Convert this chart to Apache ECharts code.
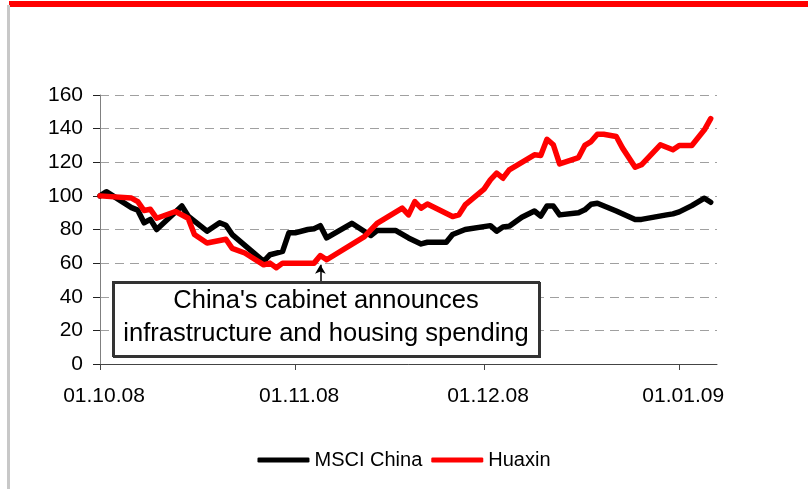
<!DOCTYPE html>
<html>
<head>
<meta charset="utf-8">
<script src="https://cdn.jsdelivr.net/npm/echarts@6/dist/echarts.min.js"></script>
<style>
  html, body { margin: 0; padding: 0; background: #fff; }
  #chart { width: 808px; height: 489px; }
</style>
</head>
<body>
<div id="chart"></div>
<script>
// MSCI China (black)
const msciDates = ['2008-10-01','2008-10-02','2008-10-06','2008-10-07','2008-10-08','2008-10-09','2008-10-10',
  '2008-10-14','2008-10-15','2008-10-18','2008-10-20','2008-10-21','2008-10-22','2008-10-27','2008-10-28',
  '2008-10-29','2008-10-30','2008-10-31','2008-11-01','2008-11-03','2008-11-04','2008-11-05','2008-11-06',
  '2008-11-10','2008-11-13','2008-11-14','2008-11-17','2008-11-19','2008-11-21','2008-11-22','2008-11-25',
  '2008-11-26','2008-11-28','2008-12-02','2008-12-03','2008-12-04','2008-12-05','2008-12-07','2008-12-09',
  '2008-12-10','2008-12-11','2008-12-12','2008-12-13','2008-12-16','2008-12-17','2008-12-18','2008-12-19',
  '2008-12-22','2008-12-25','2008-12-26','2008-12-30','2008-12-31','2009-01-01','2009-01-03','2009-01-05',
  '2009-01-06'];
const msciValues = [100, 102.5, 93, 91.5, 84, 86, 80,
  94, 88, 79, 84, 82.5, 77, 61, 65,
  66, 67, 78, 78, 80, 80.5, 82.3, 75,
  83.7, 76.4, 79.4, 79.4, 75, 71.4, 72.4, 72.4,
  77, 80, 82.3, 79, 81.5, 82, 87.3, 91,
  88, 94, 94, 88.7, 90, 91.7, 95, 95.6,
  91, 86, 86, 88.7, 89.3, 90.5, 94.2, 98.6,
  96.2];

// Huaxin (red)
const huaxinDates = ['2008-10-01','2008-10-06','2008-10-07','2008-10-08','2008-10-09','2008-10-10','2008-10-13',
  '2008-10-15','2008-10-16','2008-10-18','2008-10-21','2008-10-22','2008-10-24','2008-10-27','2008-10-28',
  '2008-10-29','2008-10-30','2008-11-04','2008-11-05','2008-11-06','2008-11-12','2008-11-14','2008-11-18',
  '2008-11-19','2008-11-20','2008-11-21','2008-11-22','2008-11-26','2008-11-27','2008-11-28','2008-12-01',
  '2008-12-02','2008-12-03','2008-12-04','2008-12-05','2008-12-09','2008-12-10','2008-12-11','2008-12-12',
  '2008-12-13','2008-12-16','2008-12-17','2008-12-18','2008-12-19','2008-12-20','2008-12-22','2008-12-23',
  '2008-12-25','2008-12-26','2008-12-29','2008-12-31','2009-01-01','2009-01-03','2009-01-05','2009-01-06'];
const huaxinValues = [100, 98.7, 96.6, 91.3, 92, 86.7, 90.7,
  86.7, 77, 72, 74.2, 68.8, 66, 59, 60,
  57.3, 60, 60, 64.5, 62, 75.8, 83.7, 92.7,
  88.7, 96.6, 92.7, 95.2, 87.7, 88.7, 94.6, 104,
  109.5, 113.5, 110.5, 115.5, 124.4, 124, 133.7, 130.4,
  119, 122.8, 130, 132.3, 136.7, 136.7, 135.3, 128.4,
  117, 118.5, 130.4, 127.4, 130, 130, 139.3, 146];

const tickDates = ['2008-10-01', '2008-11-01', '2008-12-01', '2009-01-01'];
const tickLabels = ['01.10.08', '01.11.08', '01.12.08', '01.01.09'];
const axisStart = '2008-10-01';
const axisEnd = '2009-01-07';

const annotDate = '2008-11-05';
const annotFrom = 48.8;
const annotTo = 59;
const annotLines = ["China's cabinet announces", 'infrastructure and housing spending'];

const FONT = '"Liberation Sans", Arial, sans-serif';
const DAY = 86400000;
const t = d => echarts.time.parse(d);
const tickTimes = tickDates.map(t);
const labelFor = v => {
  const i = tickTimes.findIndex(x => Math.abs(x - v) < DAY / 2);
  return i >= 0 ? tickLabels[i] : '';
};

const chart = echarts.init(document.getElementById('chart'), null, { renderer: 'canvas' });
chart.setOption({
  backgroundColor: '#fff',
  animation: false,
  textStyle: { fontFamily: FONT },
  grid: { left: 100, right: 91, top: 95, bottom: 125, containLabel: false },
  legend: {
    bottom: 14,
    left: 'center',
    icon: 'roundRect',
    itemWidth: 52,
    itemHeight: 5,
    itemGap: 9,
    textStyle: { fontFamily: FONT, fontSize: 20, color: '#000' },
    data: ['MSCI China', 'Huaxin']
  },
  xAxis: {
    type: 'time',
    min: t(axisStart),
    max: t(axisEnd),
    minInterval: 28 * DAY,
    maxInterval: 31 * DAY,
    splitLine: { show: false },
    axisLine: { lineStyle: { color: '#444', width: 1 } },
    axisTick: { show: true, length: 6, lineStyle: { color: '#444', width: 1 } },
    axisLabel: {
      margin: 22,
      fontSize: 21,
      color: '#000',
      fontFamily: FONT,
      padding: [0, 0, 0, 8],
      showMinLabel: true,
      showMaxLabel: false,
      hideOverlap: false,
      formatter: v => labelFor(v)
    }
  },
  yAxis: {
    type: 'value',
    min: 0,
    max: 160,
    interval: 20,
    axisLine: { show: true, lineStyle: { color: '#808080', width: 1 } },
    axisTick: { show: true, length: 7, lineStyle: { color: '#222', width: 1 } },
    axisLabel: { margin: 17, fontSize: 21, color: '#000', fontFamily: FONT },
    splitLine: { show: true, lineStyle: { color: '#a0a0a0', width: 1, type: [9, 6] } }
  },
  series: [
    {
      name: 'MSCI China',
      type: 'line',
      symbol: 'none',
      color: '#000',
      lineStyle: { width: 5.5, color: '#000', cap: 'round', join: 'round' },
      data: msciDates.map((d, i) => [t(d), msciValues[i]])
    },
    {
      name: 'Huaxin',
      type: 'line',
      symbol: 'none',
      color: '#ff0000',
      lineStyle: { width: 5.5, color: '#ff0000', cap: 'round', join: 'round' },
      data: huaxinDates.map((d, i) => [t(d), huaxinValues[i]]),
      markLine: {
        silent: true,
        symbol: ['none', 'arrow'],
        symbolSize: [8, 9],
        label: { show: false },
        lineStyle: { color: '#000', width: 1.5, type: 'solid' },
        data: [[{ coord: [t(annotDate), annotFrom] }, { coord: [t(annotDate), annotTo] }]]
      }
    }
  ],
  graphic: [
    { type: 'rect', shape: { x: 9, y: 1, width: 799, height: 6 }, style: { fill: '#ff0000' }, silent: true },
    { type: 'rect', shape: { x: 7, y: 5, width: 3, height: 484 }, style: { fill: '#c8c8c8' }, silent: true },
    {
      type: 'rect', z: 100,
      shape: { x: 113, y: 282, width: 426, height: 74 },
      style: { fill: '#fff', stroke: '#333', lineWidth: 2, shadowColor: '#333', shadowOffsetX: 1, shadowOffsetY: 1, shadowBlur: 0 },
      silent: true
    },
    {
      type: 'text', z: 101,
      x: 326, y: 317,
      style: {
        text: annotLines.join('\n'),
        font: '25.5px ' + FONT,
        fill: '#000',
        align: 'center',
        verticalAlign: 'middle',
        lineHeight: 33
      },
      silent: true
    }
  ]
});
</script>
</body>
</html>
